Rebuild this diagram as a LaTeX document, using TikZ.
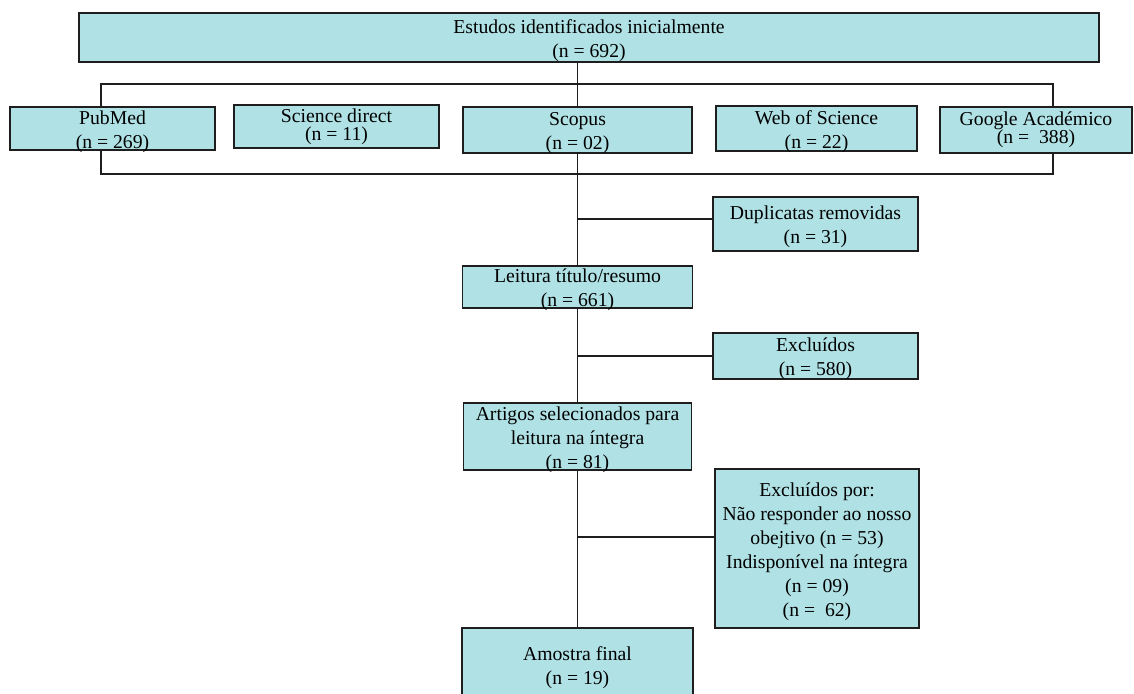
\documentclass[tikz,border=0pt]{standalone}
\usepackage{fontspec}
\setmainfont{Liberation Serif}

\definecolor{caixafill}{RGB}{176,225,229}
\definecolor{traco}{RGB}{30,30,30}
\newcommand{\escora}{\rule{0pt}{19.5pt}}

\begin{document}
\begin{tikzpicture}[x=1pt, y=-1pt,
  caixa/.style={draw=traco, line width=1.6pt, fill=caixafill, align=center,
    inner xsep=0pt, inner ysep=-5pt, font=\fontsize{19.7}{24}\selectfont},
  ligacao/.style={draw=traco, line width=1.3pt}]
  \useasboundingbox (0,0) rectangle (1134,693);
  % Frame round the databases
  \coordinate (molduraNO) at (101,84);
  \coordinate (molduraSE) at (1053,174);
  \draw[ligacao] (molduraNO) rectangle (molduraSE);
  % Top box
  \node[caixa, minimum width=1020pt, minimum height=49pt] (inicio) at (589,37.5)
    {\escora Estudos identificados inicialmente\\(n = 692)};
  % Databases
  \node[caixa, minimum width=205pt, minimum height=43pt] (pubmed) at (112.5,128.5)
    {\escora PubMed\\(n = 269)};
  \node[caixa, minimum width=205pt, minimum height=43pt] (scidirect) at (336.5,126.5)
    {Science direct\\[-6pt](n = 11)};
  \node[caixa, minimum width=229pt, minimum height=46pt] (scopus) at (577.5,130)
    {\escora Scopus\\(n = 02)};
  \node[caixa, minimum width=201pt, minimum height=45pt] (wos) at (816.5,128.5)
    {\escora Web of Science\\(n = 22)};
  \node[caixa, minimum width=192pt, minimum height=46pt] (google) at (1036,130)
    {Google Académico\\[-6pt](n = ~388)};
  % Screening steps
  \node[caixa, minimum width=230pt, minimum height=42pt] (leitura) at (577.5,287)
    {\escora Leitura título/resumo\\(n = 661)};
  \node[caixa, minimum width=228pt, minimum height=67pt] (artigos) at (577.5,436.5)
    {\escora Artigos selecionados para\\leitura na íntegra\\(n = 81)};
  \node[caixa, minimum width=231pt, minimum height=74pt] (amostra) at (577.5,665)
    {\escora Amostra final\\(n = 19)};
  % Removed records
  \node[caixa, minimum width=205pt, minimum height=54pt] (duplicatas) at (815.5,224)
    {\escora Duplicatas removidas\\(n = 31)};
  \node[caixa, minimum width=205pt, minimum height=46pt] (excluidos) at (815.5,356)
    {\escora Excluídos\\(n = 580)};
  \node[caixa, minimum width=204pt, minimum height=159pt] (excluidospor) at (817,548.5)
    {\escora Excluídos por:\\Não responder ao nosso\\obejtivo (n = 53)\\Indisponível na íntegra\\(n = 09)\\(n = ~62)};
  % Main trunk
  \draw[ligacao] (inicio.south -| scopus) -- (scopus.north);
  \draw[ligacao] (scopus.south) -- (leitura.north);
  \draw[ligacao] (leitura.south) -- (artigos.north);
  \draw[ligacao] (artigos.south) -- (amostra.north);
  % Side branches
  \coordinate (ramo1) at (577.5,219);
  \coordinate (ramo2) at (577.5,356);
  \coordinate (ramo3) at (577.5,537);
  \draw[ligacao] (ramo1) -- (ramo1 -| duplicatas.west);
  \draw[ligacao] (ramo2) -- (ramo2 -| excluidos.west);
  \draw[ligacao] (ramo3) -- (ramo3 -| excluidospor.west);
\end{tikzpicture}
\end{document}
